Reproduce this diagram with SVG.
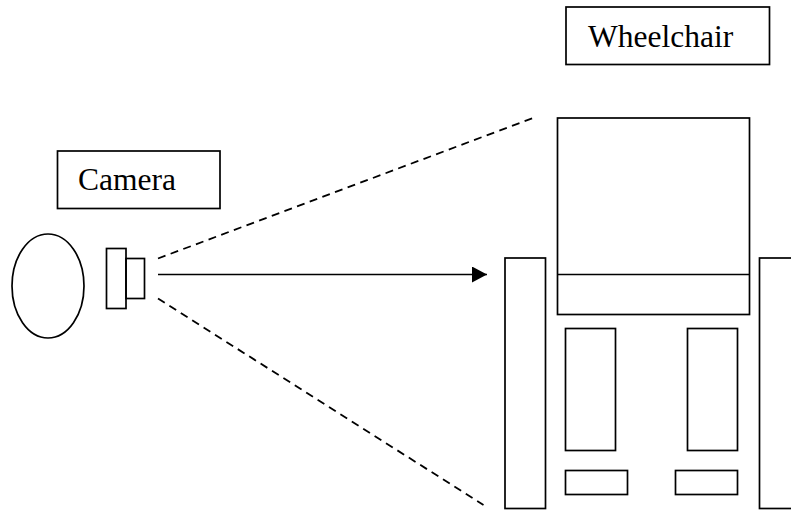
<svg xmlns="http://www.w3.org/2000/svg" width="791" height="510" viewBox="0 0 791 510">
<style>
.s{fill:none;stroke:#000;stroke-width:1.7}
.t{font-family:"Liberation Serif","Times New Roman",serif;font-size:31.5px;fill:#000}
.d{stroke:#000;stroke-width:1.8;stroke-dasharray:8 5.5;fill:none}
</style>
<defs>
<marker id="ah" markerWidth="15" markerHeight="16" refX="15" refY="8" orient="auto" markerUnits="userSpaceOnUse">
<path d="M0,0 L15,8 L0,16 Z" fill="#000"/>
</marker>
</defs>
<rect width="791" height="510" fill="#fff"/>
<g id="camera-label">
<rect class="s" x="57.5" y="151" width="162.5" height="57.5"/>
<text class="t" x="78" y="190">Camera</text>
</g>
<g id="wheelchair-label">
<rect class="s" x="566" y="7" width="203.5" height="57.5"/>
<text class="t" x="588" y="47">Wheelchair</text>
</g>
<g id="head">
<ellipse class="s" cx="48" cy="286" rx="36" ry="52"/>
</g>
<g id="camera">
<rect class="s" x="106.5" y="248.5" width="19.5" height="60"/>
<rect class="s" x="126" y="258.5" width="18.5" height="40"/>
</g>
<g id="wheelchair">
<rect class="s" x="557.5" y="118" width="192" height="196.5"/>
<line class="s" x1="557.5" y1="274.5" x2="749.5" y2="274.5"/>
<rect class="s" x="505" y="258" width="40.5" height="250.5"/>
<rect class="s" x="759.5" y="258" width="40" height="250.5"/>
<rect class="s" x="565.5" y="328.5" width="50" height="122"/>
<rect class="s" x="687.5" y="328.5" width="50" height="122"/>
<rect class="s" x="565.5" y="470.5" width="62" height="24"/>
<rect class="s" x="675.5" y="470.5" width="62" height="24"/>
</g>
<g id="connectors">
<line class="s" x1="158" y1="274.5" x2="487" y2="274.5" marker-end="url(#ah)"/>
<line class="d" x1="158" y1="258.5" x2="533" y2="118"/>
<line class="d" x1="158" y1="298.5" x2="483.5" y2="505"/>
</g>
</svg>
